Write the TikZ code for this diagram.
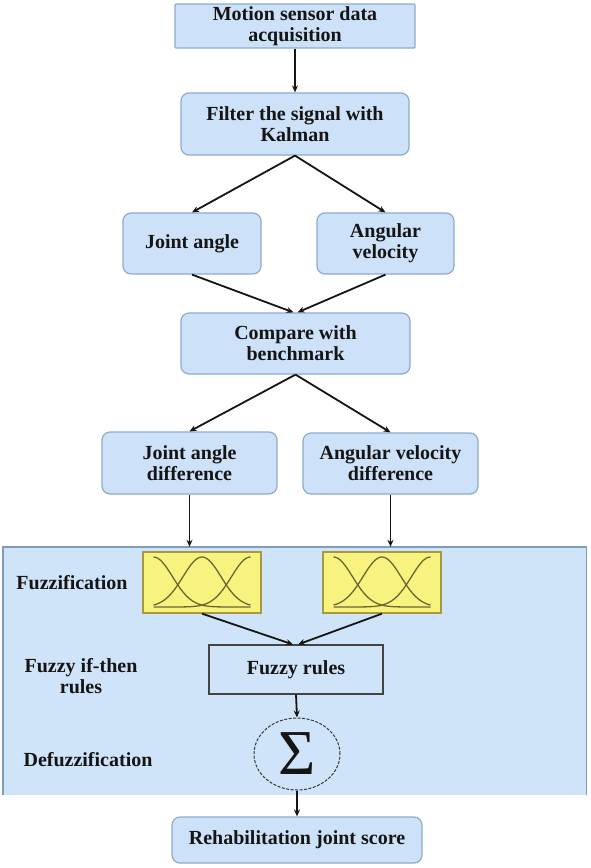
\documentclass[tikz,border=0pt]{standalone}
\usepackage{fontspec}
\setmainfont{Liberation Serif}
\usetikzlibrary{arrows.meta,shapes.geometric}
\definecolor{boxfill}{HTML}{CDE2F8}
\definecolor{boxline}{HTML}{8EABCB}
\definecolor{panelfill}{HTML}{CFE4F9}
\definecolor{panelline}{HTML}{7F9CBB}
\definecolor{yel}{HTML}{F8F27F}
\definecolor{yelline}{HTML}{A89A3C}
\definecolor{curvecol}{HTML}{6E6630}
\definecolor{ink}{HTML}{151515}
\begin{document}
\begin{tikzpicture}[x=1pt,y=-1pt,
  box/.style={draw=boxline, fill=boxfill, line width=1.2pt, rounded corners=8pt,
    align=center, inner sep=0pt, font=\fontsize{20}{21}\selectfont\bfseries, text=ink},
  lab/.style={align=center, inner sep=0pt, font=\fontsize{20}{21}\selectfont\bfseries, text=ink},
  yelbox/.style={draw=yelline, fill=yel, line width=1.3pt, minimum width=118pt, minimum height=61pt, inner sep=0pt},
  bell/.style={draw=curvecol, line width=1.3pt},
  arr/.style={-{Stealth[length=7pt,width=6pt]}, line width=1.8pt, draw=ink}]
\useasboundingbox (0,0) rectangle (590,868);
\fill[white] (0,0) rectangle (590,868);

% top flow
\node[box, rounded corners=1pt, minimum width=240pt, minimum height=44pt] (b1) at (295,26) {Motion sensor data\\acquisition};
\node[box, minimum width=228pt, minimum height=62pt] (b2) at (295,124) {Filter the signal with\\Kalman};
\node[box, minimum width=138pt, minimum height=61pt] (b3) at (192,243.5) {Joint angle};
\node[box, minimum width=137pt, minimum height=61pt] (b4) at (385.5,243.5) {Angular\\velocity};
\node[box, minimum width=229pt, minimum height=61pt] (b5) at (295.5,343.5) {Compare with\\benchmark};
\node[box, minimum width=175pt, minimum height=62pt] (b6) at (189.5,463) {Joint angle\\difference};
\node[box, minimum width=175pt, minimum height=61pt] (b7) at (390.5,463.5) {Angular velocity\\difference};

% panel
\node[fill=panelfill, minimum width=583pt, minimum height=248pt, inner sep=0pt] (panel) at (294.5,671) {};
\draw[panelline, line width=1.4pt] (panel.south west) -- (panel.north west) -- (panel.north east) -- (panel.south east);

\node[lab] (l1) at (72,583) {Fuzzification};
\node[lab] (l2) at (81,676) {Fuzzy if-then\\rules};
\node[lab] (l3) at (88,760) {Defuzzification};

\node[yelbox] (y1) at (202,582.5) {};
\node[yelbox] (y2) at (382,582.5) {};
\foreach \yb in {y1,y2}{
  \begin{scope}[shift={(\yb.center)}]
    \foreach \c in {-48.5,0,48.5}{
      \draw[bell] plot[domain=-48.5:48.5, samples=60, smooth] (\x, {24.5-50*exp(-((\x-\c)^2)/722)});
    }
  \end{scope}
}

\node[draw=ink!80, fill=panelfill, line width=1.1pt, minimum width=174pt, minimum height=49pt, inner sep=0pt,
  font=\fontsize{20}{21}\selectfont\bfseries, text=ink] (fr) at (296,669.5) {Fuzzy rules};
\node[ellipse, draw=ink!85, dashed, dash pattern=on 3pt off 1.5pt, line width=1pt, minimum width=86pt, minimum height=72pt, inner sep=0pt] (sig) at (297,754) {};
\node[inner sep=0pt, font=\fontsize{64}{64}\selectfont, text=ink] (sigtxt) at (sig.center) {Σ};

\node[box, minimum width=250pt, minimum height=46pt] (rehab) at (297,840) {Rehabilitation joint score};

% connectors
\draw[arr] (b1.south) -- (b2.north);
\draw[arr] (b2.south) -- (b3.north);
\draw[arr] (b2.south) -- (b4.north);
\draw[arr] (b3.south) -- ([xshift=-2pt]b5.north);
\draw[arr] (b4.south) -- ([xshift=2pt]b5.north);
\draw[arr] (b5.south) -- (b6.north);
\draw[arr] (b5.south) -- (b7.north);
\draw[arr] (b6.south) -- (b6.south |- panel.north);
\draw[arr] (b7.south) -- (b7.south |- panel.north);
\draw[arr] (y1.south) -- ([xshift=-3pt]fr.north);
\draw[arr] (y2.south) -- ([xshift=2pt]fr.north);
\draw[arr] (fr.south) -- (sig.north);
\draw[arr] (sig.south) -- (rehab.north);
\end{tikzpicture}
\end{document}
